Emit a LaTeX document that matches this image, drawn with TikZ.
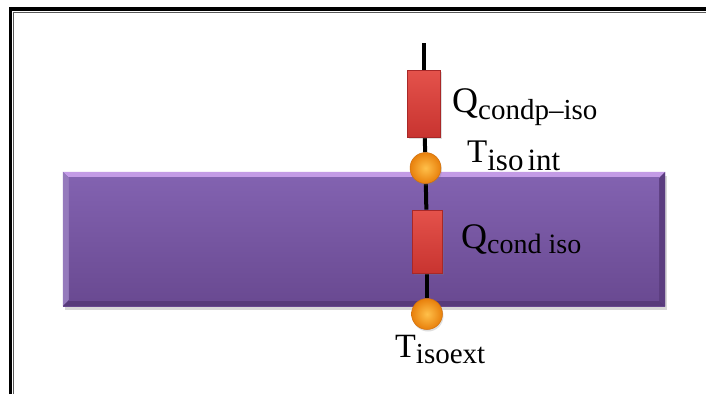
\documentclass[tikz,border=0pt]{standalone}
\usepackage{fontspec}
\setmainfont{Liberation Serif}
\usetikzlibrary{backgrounds,shadows}
\definecolor{purptop}{HTML}{8262B0}
\definecolor{purpbot}{HTML}{6A4A92}
\definecolor{purplight}{HTML}{C39BE6}
\definecolor{purpdark}{HTML}{573A7A}
\definecolor{redtop}{HTML}{E4524B}
\definecolor{redbot}{HTML}{C83430}
\definecolor{rededge}{HTML}{A82828}
\definecolor{ballin}{HTML}{FFC04A}
\definecolor{ballout}{HTML}{E8800C}
\definecolor{balledge}{HTML}{D0700E}
\tikzset{
  resist/.style={rectangle, inner sep=0pt, top color=redtop, bottom color=redbot,
    draw=rededge, line width=0.6pt, drop shadow={shadow xshift=1.5pt, shadow yshift=-2pt, opacity=0.25}},
  ball/.style={circle, inner sep=0pt, minimum size=31pt, inner color=ballin, outer color=ballout, draw=balledge, line width=0.5pt,
    drop shadow={shadow xshift=1pt, shadow yshift=-2pt, opacity=0.25}},
  lbl/.style={anchor=base west, inner sep=0pt, text=black},
  wire/.style={line width=4pt, black}
}
\begin{document}
\begin{tikzpicture}[x=1pt,y=-1pt]
\useasboundingbox (0,0) rectangle (706,394);

% components
\node[resist, minimum width=33pt, minimum height=67pt] (qa) at (424,103.5) {};
\node[ball] (ta) at (425.5,168) {};
\node[resist, minimum width=30pt, minimum height=63pt] (qb) at (427,241.5) {};
\node[ball] (tb) at (427,314) {};
\coordinate (top) at (424,43);

% labels
\node[lbl] (lqa) at (452,112) {\fontsize{36}{36}\selectfont Q\raisebox{-7pt}{\fontsize{29}{29}\selectfont condp–iso}};
\node[lbl] (lta) at (467,162) {\fontsize{33}{33}\selectfont T\raisebox{-8pt}{\fontsize{31}{31}\selectfont iso\hspace{4pt}int}};
\node[lbl] (lqb) at (461,248) {\fontsize{36}{36}\selectfont Q\raisebox{-5pt}{\fontsize{28}{28}\selectfont cond iso}};
\node[lbl] (ltb) at (395,357) {\fontsize{34}{34}\selectfont T\raisebox{-6pt}{\fontsize{29}{29}\selectfont isoext}};

\begin{scope}[on background layer]
  \fill[white] (0,0) rectangle (706,394);
  % frame
  \draw[line width=3.3pt] (10.5,394) -- (10.5,9) -- (706,9);
  \draw[line width=1pt, black!65] (13.9,394) -- (13.9,12.7) -- (706,12.7);
  % insulation layer
  \node[rectangle, inner sep=0pt, minimum width=602pt, minimum height=134pt,
        top color=purptop, bottom color=purpbot,
        drop shadow={shadow xshift=2pt, shadow yshift=-4pt, opacity=0.3}] (layer) at (364,239) {};
  \fill[purplight] (layer.north west) -- (layer.north east) -- ++(-6,6) -- ++(-590,0) -- cycle;
  \fill[purptop!85!white] (layer.north west) -- ++(6,6) -- ++(0,122) -- (layer.south west) -- cycle;
  \fill[purpdark] (layer.south west) -- (layer.south east) -- ++(-6,-6) -- ++(-590,0) -- cycle;
  \fill[purpdark!80!purpbot] (layer.north east) -- ++(-6,6) -- ++(0,122) -- (layer.south east) -- cycle;
  \fill[top color=purptop, bottom color=purpbot] ([shift={(6,6)}]layer.north west) rectangle ([shift={(-6,-6)}]layer.south east);
  % wire
  \draw[wire] (top) -- (qa);
  \draw[wire] (qa) -- (ta);
  \draw[wire] (ta) -- (qb);
  \draw[wire] (qb) -- (tb);
\end{scope}
\end{tikzpicture}
\end{document}
